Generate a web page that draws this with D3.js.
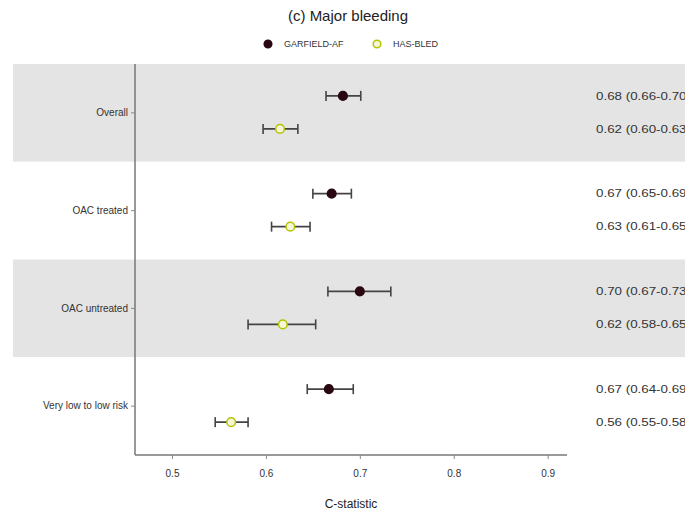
<!DOCTYPE html>
<html><head><meta charset="utf-8">
<script src="https://cdn.jsdelivr.net/npm/d3@7"></script>
<style>body{margin:0;background:#fff;overflow:hidden}svg{display:block}text{font-family:"Liberation Sans",Arial,sans-serif}</style>
</head><body>
<svg id="c" width="685" height="514"></svg>
<script>
const categories = ["Overall", "OAC treated", "OAC untreated", "Very low to low risk"];
const seriesNames = ["GARFIELD-AF", "HAS-BLED"];
const garfieldEst = [0.682, 0.670, 0.700, 0.667];
const garfieldLo  = [0.664, 0.650, 0.666, 0.644];
const garfieldHi  = [0.701, 0.691, 0.733, 0.693];
const hasbledEst  = [0.615, 0.626, 0.618, 0.563];
const hasbledLo   = [0.597, 0.606, 0.581, 0.546];
const hasbledHi   = [0.634, 0.647, 0.653, 0.581];
const garfieldLabels = ["0.68 (0.66-0.70)", "0.67 (0.65-0.69)", "0.70 (0.67-0.73)", "0.67 (0.64-0.69)"];
const hasbledLabels  = ["0.62 (0.60-0.63)", "0.63 (0.61-0.65)", "0.62 (0.58-0.65)", "0.56 (0.55-0.58)"];
const xTicks = [0.5, 0.6, 0.7, 0.8, 0.9];

const svg = d3.select("#c");
const L = 135, R = 567, T = 64, B = 455;
const x = d3.scaleLinear().domain([0.4606, 0.9206]).range([L, R]);
const y = d3.scaleBand().domain(categories).range([T, B]);
const series = [
  {name: seriesNames[0], est: garfieldEst, lo: garfieldLo, hi: garfieldHi, lab: garfieldLabels, off: -17, fill: "#2a0812", stroke: "#2a0812"},
  {name: seriesNames[1], est: hasbledEst, lo: hasbledLo, hi: hasbledHi, lab: hasbledLabels, off: 16, fill: "#f4f6d8", stroke: "#b4c400"}
];

// bands
svg.selectAll("rect.band").data(categories).join("rect")
  .attr("x", 13).attr("width", 685 - 13)
  .attr("y", d => y(d)).attr("height", y.bandwidth())
  .attr("fill", (d, i) => i % 2 === 0 ? "#e4e4e4" : "#ffffff");

// axes
const gx = svg.append("g").attr("transform", `translate(0,${B})`)
  .call(d3.axisBottom(x).tickValues(xTicks).tickFormat(d3.format(".1f")).tickSize(4).tickPadding(11));
gx.select(".domain").attr("stroke", "#777").attr("stroke-width", 1.5).attr("d", `M${L},0H${R}`);
gx.selectAll(".tick line").attr("stroke", "#888");
gx.selectAll(".tick text").attr("font-size", 10).attr("fill", "#333");

const gy = svg.append("g").attr("transform", `translate(${L},0)`)
  .call(d3.axisLeft(y).tickSize(4).tickPadding(3));
gy.select(".domain").attr("stroke", "#777").attr("stroke-width", 1.5).attr("d", `M0,${T}V${B}`);
gy.selectAll(".tick line").attr("stroke", "#888");
gy.selectAll(".tick text").attr("font-size", 10).attr("fill", "#333");

// error bars & points
series.forEach(s => {
  const g = svg.append("g");
  categories.forEach((c, i) => {
    const yy = y(c) + y.bandwidth() / 2 + s.off;
    g.append("line").attr("x1", x(s.lo[i])).attr("x2", x(s.hi[i])).attr("y1", yy).attr("y2", yy)
      .attr("stroke", "#444").attr("stroke-width", 1.6);
    [s.lo[i], s.hi[i]].forEach(v => g.append("line").attr("x1", x(v)).attr("x2", x(v))
      .attr("y1", yy - 5).attr("y2", yy + 5).attr("stroke", "#444").attr("stroke-width", 1.6));
    g.append("circle").attr("cx", x(s.est[i])).attr("cy", yy).attr("r", 4.3)
      .attr("fill", s.fill).attr("stroke", s.stroke).attr("stroke-width", 1.5);
    g.append("text").attr("x", 596).attr("y", yy).attr("dy", "0.35em")
      .attr("font-size", 11).attr("textLength", 95).attr("lengthAdjust", "spacingAndGlyphs")
      .attr("fill", "#333").text(s.lab[i]);
  });
});

// title
svg.append("text").attr("x", 348).attr("y", 21).attr("text-anchor", "middle")
  .attr("font-size", 15).attr("fill", "#222").text("(c) Major bleeding");

// legend
const legX = [268, 377];
series.forEach((s, i) => {
  svg.append("circle").attr("cx", legX[i]).attr("cy", 44).attr("r", 3.8)
    .attr("fill", s.fill).attr("stroke", s.stroke).attr("stroke-width", 1.5);
  svg.append("text").attr("x", legX[i] + 16).attr("y", 44).attr("dy", "0.35em")
    .attr("font-size", 9).attr("fill", "#333").text(s.name);
});

// x axis title
svg.append("text").attr("x", 351).attr("y", 508).attr("text-anchor", "middle")
  .attr("font-size", 12).attr("fill", "#222").text("C-statistic");
</script>
</body></html>
